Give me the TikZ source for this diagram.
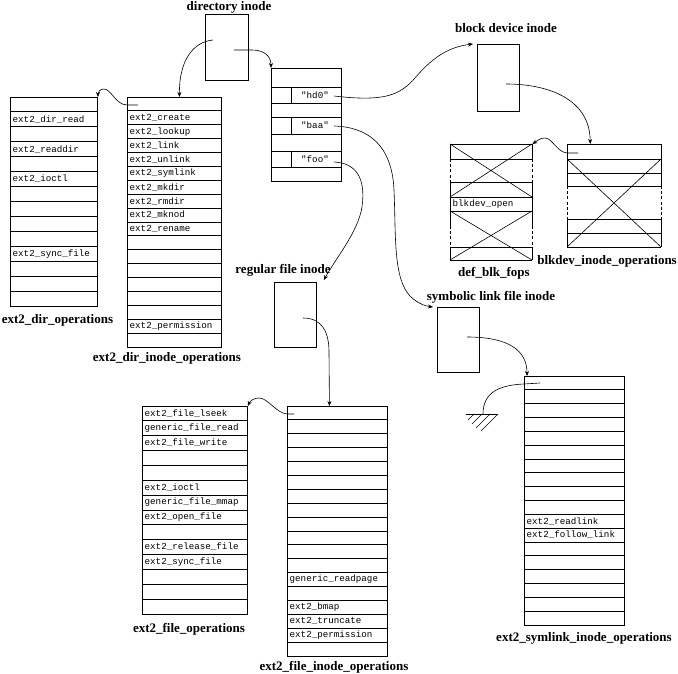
\documentclass[tikz,border=0pt]{standalone}
\usepackage{fontspec}
\setmainfont{Liberation Serif}
\setmonofont{Liberation Mono}
\usepackage{tikz}
\usetikzlibrary{arrows.meta,calc}
\definecolor{inkline}{HTML}{000000}
\tikzset{every node/.append style={font=\rmfamily}}
\tikzset{
  box/.style={draw=inkline,line width=.9pt,inner sep=0pt,anchor=north west},
  ghostbox/.style={inner sep=0pt,anchor=north west},
  rowline/.style={inkline,line width=.9pt},
  sideline/.style={inkline,line width=.9pt},
  dashside/.style={inkline,line width=.9pt,dash pattern=on 3pt off 2.2pt},
  crossline/.style={inkline,line width=.6pt},
  link/.style={inkline,line width=.6pt},
  optext/.style={font=\fontsize{9.2}{11}\selectfont\ttfamily,anchor=west,inner sep=0pt},
  tblname/.style={font=\fontsize{13}{15}\selectfont\bfseries,inner sep=0pt}
}

\begin{document}
\begin{tikzpicture}[>={Stealth[length=5pt,width=4pt]},x=1pt,y=-1pt]
  \useasboundingbox (0,0) rectangle (678,674);
  % the four inodes, y grows downwards here
  \node[box,minimum width=43pt,minimum height=66pt] (dirinode) at (205,14) {};
  \node[tblname] (dirinodename) at (229,7) {directory inode};
  \node[box,minimum width=42pt,minimum height=67pt] (blkinode) at (477,44) {};
  \node[tblname] (blkinodename) at (506,28) {block device inode};
  \node[box,minimum width=42pt,minimum height=65pt] (reginode) at (274,282) {};
  \node[tblname] (reginodename) at (283,270) {regular file inode};
  \node[box,minimum width=42pt,minimum height=65pt] (symlinode) at (437,307) {};
  \node[tblname] (symlinodename) at (491,297) {symbolic link file inode};

  % directory entries
  \node[box,minimum width=70pt,minimum height=113pt] (dentries) at (271,68) {};
  \foreach \yy in {87,103,117,134,151,167} \draw[rowline] (271,\yy) -- (341,\yy);
  \foreach \yy/\ee/\nm in {87/103/hd0,117/134/baa,151/167/foo} {
    \draw[sideline] (291,\yy) -- (291,\ee);
    \node[optext,anchor=center] (\nm) at (315,{(\yy+\ee)/2}) {"\nm"};
  }

  % ext2_dir_operations
  \node[box,minimum width=87pt,minimum height=209pt] (dirops) at (10,97) {};
  \foreach \k in {1,...,13} \draw[rowline] (10,{97+\k*209/14}) -- +(87,0);
  \foreach \k/\op in {2/ext2\_dir\_read,4/ext2\_readdir,6/ext2\_ioctl,11/ext2\_sync\_file}
    \node[optext] (dirops-\k) at (12.5,{97+(\k-.5)*209/14}) {\op};
  \node[tblname] (diropsname) at (57.5,320) {ext2\_dir\_operations};

  % ext2_dir_inode_operations
  \node[box,minimum width=94pt,minimum height=250pt] (dirinodeops) at (127,97) {};
  \foreach \k in {1,...,17} \draw[rowline] (127,{97+\k*250/18}) -- +(94,0);
  \foreach \k/\op in {2/ext2\_create,3/ext2\_lookup,4/ext2\_link,5/ext2\_unlink,
      6/ext2\_symlink,7/ext2\_mkdir,8/ext2\_rmdir,9/ext2\_mknod,10/ext2\_rename,
      17/ext2\_permission}
    \node[optext] (dirinodeops-\k) at (129.5,{97+(\k-.5)*250/18}) {\op};
  \node[tblname] (dirinodeopsname) at (167,358) {ext2\_dir\_inode\_operations};

  % ext2_file_operations
  \node[box,minimum width=105pt,minimum height=208pt] (fileops) at (142,406) {};
  \foreach \k in {1,...,13} \draw[rowline] (142,{406+\k*208/14}) -- +(105,0);
  \foreach \k/\op in {1/ext2\_file\_lseek,2/generic\_file\_read,3/ext2\_file\_write,
      6/ext2\_ioctl,7/generic\_file\_mmap,8/ext2\_open\_file,10/ext2\_release\_file,
      11/ext2\_sync\_file}
    \node[optext] (fileops-\k) at (144.5,{406+(\k-.5)*208/14}) {\op};
  \node[tblname] (fileopsname) at (189,629) {ext2\_file\_operations};

  % ext2_file_inode_operations
  \node[box,minimum width=100pt,minimum height=250pt] (fileinodeops) at (287,406) {};
  \foreach \k in {1,...,17} \draw[rowline] (287,{406+\k*250/18}) -- +(100,0);
  \foreach \k/\op in {13/generic\_readpage,15/ext2\_bmap,16/ext2\_truncate,17/ext2\_permission}
    \node[optext] (fileinodeops-\k) at (289.5,{406+(\k-.5)*250/18}) {\op};
  \node[tblname] (fileinodeopsname) at (334,667) {ext2\_file\_inode\_operations};

  % ext2_symlink_inode_operations
  \node[box,minimum width=100pt,minimum height=249pt] (symlinkops) at (524,376) {};
  \foreach \k in {1,...,17} \draw[rowline] (524,{376+\k*249/18}) -- +(100,0);
  \foreach \k/\op in {11/ext2\_readlink,12/ext2\_follow\_link}
    \node[optext] (symlinkops-\k) at (526.5,{376+(\k-.5)*249/18}) {\op};
  \node[tblname] (symlinkopsname) at (584,638) {ext2\_symlink\_inode\_operations};

  % def_blk_fops, crossed out parts
  \node[ghostbox,minimum width=82pt,minimum height=116pt] (deffops) at (450,144) {};
  \foreach \yy in {144,159,182,197,211,247,260} \draw[rowline] (450,\yy) -- (532,\yy);
  \foreach \xx in {450,532} {
    \draw[sideline] (\xx,144) -- (\xx,159) (\xx,182) -- (\xx,226) (\xx,247) -- (\xx,260);
    \draw[dashside] (\xx,159) -- (\xx,182) (\xx,226) -- (\xx,247);
  }
  \draw[crossline] (450,144) -- (532,197) (532,144) -- (450,197)
    (450,211) -- (532,260) (532,211) -- (450,260);
  \node[optext] (deffops-open) at (452.5,204) {blkdev\_open};
  \node[tblname] (deffopsname) at (494,273) {def\_blk\_fops};

  % blkdev_inode_operations
  \node[ghostbox,minimum width=94pt,minimum height=103pt] (blkinodeops) at (567,144) {};
  \foreach \yy in {144,159,173,186,219,233,247} \draw[rowline] (567,\yy) -- (661,\yy);
  \foreach \xx in {567,661} {
    \draw[sideline] (\xx,144) -- (\xx,186) (\xx,219) -- (\xx,247);
    \draw[dashside] (\xx,186) -- (\xx,219);
  }
  \draw[crossline] (567,159) -- (661,247) (661,159) -- (567,247);
  \node[tblname,anchor=east] (blkinodeopsname) at (677,261) {blkdev\_inode\_operations};

  % pointers
  \coordinate (dirinode-ops) at (213,40);
  \coordinate (dirinode-ent) at (234,50);
  \draw[link,->] (dirinode-ops) .. controls (192,42) and (179,62) .. ([xshift=5pt]dirinodeops.north);
  \draw[link,->] (dirinode-ent) -- (252,50) .. controls (264,50) and (271,56) .. (dentries.north west);
  \coordinate (dirinodeops-ptr) at (138,105);
  \draw[link,->] (dirinodeops-ptr) -- (127,105) .. controls (116,105) and (111,89) .. (104,89)
    .. controls (100,89) and (98,92) .. (dirops.north east);
  \coordinate (hd0-ptr) at (334,96);
  \draw[link,->] (hd0-ptr) .. controls (385,102) and (400,95) .. (415,78)
    .. controls (432,58) and (448,47) .. ([xshift=-4pt]blkinode.north west);
  \coordinate (baa-ptr) at (334,126);
  \draw[link,->] (baa-ptr) .. controls (368,127) and (392,145) .. (394,190)
    .. controls (396,235) and (393,278) .. (410,296)
    .. controls (416,302) and (424,306) .. ([xshift=-4pt]symlinode.north west);
  \coordinate (foo-ptr) at (334,162);
  \draw[link,->] (foo-ptr) .. controls (356,163) and (366,178) .. (362,207)
    .. controls (358,232) and (336,258) .. ([shift={(7,-2)}]reginode.north east);
  \coordinate (blkinode-ops) at (506,84);
  \draw[link,->] (blkinode-ops) .. controls (550,84) and (590,100) .. ([xshift=-24pt]blkinodeops.north);
  \coordinate (blkinodeops-ptr) at (578,153);
  \draw[link,->] (blkinodeops-ptr) -- (567,153) .. controls (557,152) and (552,138) .. (545,138)
    .. controls (540,138) and (537,141) .. (deffops.north east);
  \coordinate (reginode-ops) at (303,318);
  \draw[link,->] (reginode-ops) .. controls (322,318) and (329,332) .. (329,352)
    -- ([xshift=-8pt]fileinodeops.north);
  \coordinate (fileinodeops-ptr) at (294,414);
  \draw[link,->] (fileinodeops-ptr) -- (287,414) .. controls (276,413) and (268,398) .. (259,398)
    .. controls (254,398) and (250,401) .. (fileops.north east);
  \coordinate (symlinode-ops) at (467,337);
  \draw[link,->] (symlinode-ops) .. controls (508,337) and (527,350) .. ([xshift=3pt]symlinkops.north west);

  % null pointer to ground
  \coordinate (symlinkops-ptr) at (540,383);
  \coordinate (gnd) at (483,414);
  \draw[link] (symlinkops-ptr) -- (524,384) .. controls (500,385) and (483,392) .. (gnd);
  \draw[rowline] (466,414) -- (498,414);
  \foreach \xx/\ll in {474/6,482/10,490/14,498/17} \draw[link] (\xx,414) -- +(-\ll,\ll);
\end{tikzpicture}
\end{document}
